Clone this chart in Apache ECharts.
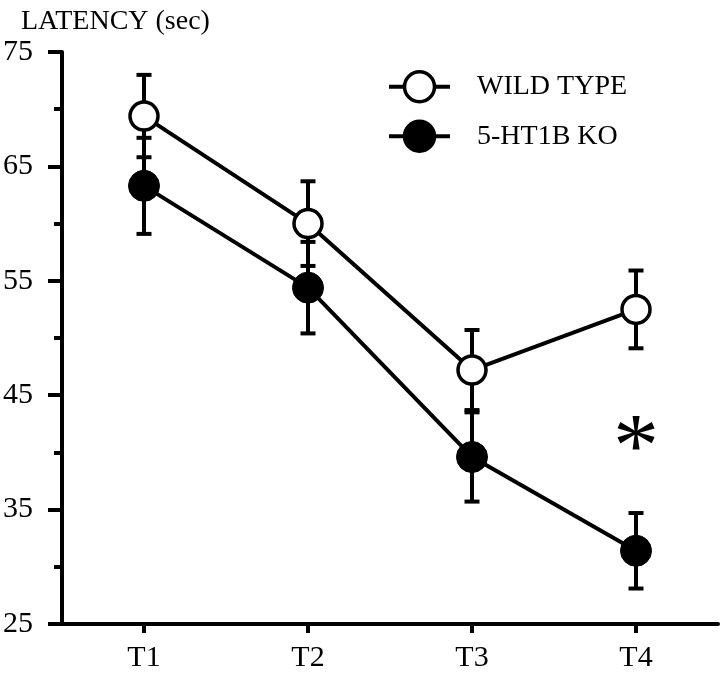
<!DOCTYPE html>
<html>
<head>
<meta charset="utf-8">
<script src="https://cdn.jsdelivr.net/npm/echarts@6/dist/echarts.min.js"></script>
<style>
html,body{margin:0;padding:0;background:#fff;}
#chart{width:720px;height:677px;}
</style>
</head>
<body>
<div id="chart"></div>
<script>
var categories = ['T1', 'T2', 'T3', 'T4'];
var wtMean = [69.4, 60.0, 47.2, 52.5];
var wtSem = [3.6, 3.7, 3.5, 3.4];
var koMean = [63.3, 54.4, 39.6, 31.4];
var koSem = [4.2, 4.0, 3.9, 3.3];
var yTicks = [25, 35, 45, 55, 65, 75];
var sigCategory = 3;   // index of 'T4'
var sigValue = 41.5;

var FONT = '"Liberation Serif", "Times New Roman", serif';
var LW = 4;

function errorSeries(name, means, sems) {
  return {
    type: 'custom',
    name: name + ' err',
    z: 1,
    silent: true,
    data: means.map(function (m, i) { return [i, m, sems[i]]; }),
    renderItem: function (params, api) {
      var i = api.value(0), m = api.value(1), s = api.value(2);
      var top = api.coord([i, m + s]);
      var bot = api.coord([i, m - s]);
      var hw = 7.5;
      var st = { stroke: '#000', lineWidth: LW };
      return {
        type: 'group',
        children: [
          { type: 'line', shape: { x1: top[0], y1: top[1], x2: bot[0], y2: bot[1] }, style: st },
          { type: 'line', shape: { x1: top[0] - hw, y1: top[1], x2: top[0] + hw, y2: top[1] }, style: st },
          { type: 'line', shape: { x1: bot[0] - hw, y1: bot[1], x2: bot[0] + hw, y2: bot[1] }, style: st }
        ]
      };
    }
  };
}

var chart = echarts.init(document.getElementById('chart'), null, { renderer: 'canvas' });
chart.setOption({
  animation: false,
  backgroundColor: '#fff',
  textStyle: { fontFamily: FONT, color: '#000' },
  title: {
    text: 'LATENCY (sec)',
    left: 16,
    top: 3,
    textStyle: { fontFamily: FONT, fontSize: 28, fontWeight: 'normal', color: '#000' }
  },
  legend: {
    data: ['WILD TYPE', '5-HT1B KO'],
    orient: 'vertical',
    left: 387,
    top: 70,
    padding: 0,
    itemWidth: 61,
    itemHeight: 37.5,
    itemGap: 16,
    lineStyle: { width: 4, color: '#000' },
    itemStyle: { borderWidth: 3.5, borderColor: '#000' },
    textStyle: { fontFamily: FONT, fontSize: 28, color: '#000', padding: [0, 0, 0, 22] }
  },
  grid: { left: 61, right: 2, top: 52, bottom: 53, containLabel: false },
  xAxis: {
    type: 'category',
    data: categories,
    boundaryGap: true,
    axisLine: { show: true, lineStyle: { color: '#000', width: LW } },
    axisTick: { show: true, alignWithLabel: true, length: 9, lineStyle: { color: '#000', width: LW } },
    axisLabel: { fontFamily: FONT, fontSize: 30, color: '#000', margin: 19 },
    splitLine: { show: false }
  },
  yAxis: {
    type: 'value',
    min: yTicks[0],
    max: yTicks[yTicks.length - 1],
    interval: 10,
    axisLine: { show: true, lineStyle: { color: '#000', width: LW } },
    axisTick: { show: true, length: 14, lineStyle: { color: '#000', width: LW } },
    minorTick: { show: true, splitNumber: 2, length: 8, lineStyle: { color: '#000', width: LW } },
    axisLabel: { fontFamily: FONT, fontSize: 30, color: '#000', margin: 29 },
    splitLine: { show: false },
    minorSplitLine: { show: false }
  },
  series: [
    errorSeries('WILD TYPE', wtMean, wtSem),
    errorSeries('5-HT1B KO', koMean, koSem),
    {
      name: 'WILD TYPE',
      type: 'line',
      z: 3,
      data: wtMean,
      symbol: 'circle',
      symbolSize: 28,
      showAllSymbol: true,
      lineStyle: { color: '#000', width: LW },
      itemStyle: { color: '#fff', borderColor: '#000', borderWidth: 3.5 }
    },
    {
      name: '5-HT1B KO',
      type: 'line',
      z: 3,
      data: koMean,
      symbol: 'circle',
      symbolSize: 31,
      showAllSymbol: true,
      lineStyle: { color: '#000', width: LW },
      itemStyle: { color: '#000', borderColor: '#000', borderWidth: 1 }
    },
    {
      name: 'sig',
      type: 'custom',
      z: 4,
      silent: true,
      data: [[sigCategory, sigValue]],
      renderItem: function (params, api) {
        var p = api.coord([api.value(0), api.value(1)]);
        return {
          type: 'text',
          x: p[0],
          y: p[1] + 17,
          style: {
            text: '*',
            fill: '#000',
            font: '92px ' + FONT,
            textAlign: 'center',
            textVerticalAlign: 'middle'
          }
        };
      }
    }
  ]
});
</script>
</body>
</html>
